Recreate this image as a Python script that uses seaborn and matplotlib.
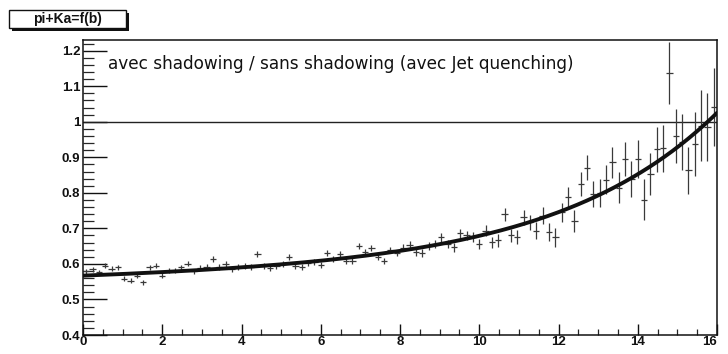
import numpy as np
import pandas as pd
import matplotlib
matplotlib.use("Agg")
import matplotlib.pyplot as plt
from matplotlib.patches import Rectangle
from matplotlib.ticker import MultipleLocator
import seaborn as sns

# Ratio pi+Ka with / without shadowing, binned in b (bin width 0.16)
b_centers = [0.08 + 0.16 * k for k in range(100)]
ratio = [
    0.580, 0.585, 0.577, 0.595, 0.586, 0.591, 0.558, 0.553, 0.567, 0.549,
    0.591, 0.595, 0.567, 0.581, 0.581, 0.591, 0.600, 0.579, 0.589, 0.592,
    0.614, 0.591, 0.600, 0.586, 0.591, 0.595, 0.591, 0.628, 0.595, 0.589,
    0.595, 0.600, 0.619, 0.595, 0.591, 0.603, 0.605, 0.597, 0.631, 0.614,
    0.628, 0.609, 0.609, 0.651, 0.633, 0.644, 0.619, 0.609, 0.640, 0.630,
    0.645, 0.654, 0.633, 0.630, 0.651, 0.656, 0.675, 0.656, 0.647, 0.686,
    0.680, 0.675, 0.656, 0.694, 0.661, 0.666, 0.740, 0.680, 0.675, 0.731,
    0.717, 0.694, 0.736, 0.689, 0.675, 0.745, 0.787, 0.722, 0.825, 0.871,
    0.796, 0.800, 0.837, 0.886, 0.815, 0.895, 0.839, 0.895, 0.781, 0.853,
    0.923, 0.925, 1.138, 0.960, 0.943, 0.863, 0.938, 0.989, 0.985, 1.041,
]
ratio_err = [
    0.007, 0.007, 0.007, 0.007, 0.007, 0.007, 0.007, 0.007, 0.007, 0.007,
    0.007, 0.007, 0.007, 0.007, 0.007, 0.007, 0.007, 0.007, 0.007, 0.007,
    0.008, 0.008, 0.008, 0.008, 0.008, 0.008, 0.008, 0.008, 0.008, 0.008,
    0.008, 0.008, 0.008, 0.008, 0.008, 0.008, 0.008, 0.008, 0.008, 0.008,
    0.009, 0.009, 0.009, 0.009, 0.009, 0.009, 0.009, 0.009, 0.009, 0.009,
    0.010, 0.010, 0.011, 0.011, 0.011, 0.012, 0.012, 0.012, 0.013, 0.013,
    0.014, 0.014, 0.015, 0.015, 0.016, 0.017, 0.018, 0.019, 0.020, 0.021,
    0.022, 0.023, 0.024, 0.025, 0.026, 0.027, 0.029, 0.031, 0.033, 0.035,
    0.037, 0.039, 0.041, 0.043, 0.045, 0.047, 0.050, 0.053, 0.057, 0.060,
    0.063, 0.067, 0.087, 0.075, 0.080, 0.065, 0.090, 0.100, 0.095, 0.110,
]
bin_half_width = 0.08

# Fit function: p0 + p1*b + p2*exp(p3*b)
fit_params = [0.5592, 0.00247, 0.007807, 0.25]

x_min, x_max = 0.0, 16.0
y_min, y_max = 0.4, 1.23

title_text = "pi+Ka=f(b)"
note_text = "avec shadowing / sans shadowing (avec Jet quenching)"

df = pd.DataFrame({"b": b_centers, "ratio": ratio, "err": ratio_err})
b_fine = np.linspace(x_min, x_max, 400)
p0, p1, p2, p3 = fit_params
fit_df = pd.DataFrame({"b": b_fine, "fit": p0 + p1 * b_fine + p2 * np.exp(p3 * b_fine)})

sns.set_theme(style="white")
plt.rcParams["font.family"] = ["Liberation Sans", "DejaVu Sans"]

fig = plt.figure(figsize=(7.28, 3.54), dpi=100)
ax = fig.add_axes([83 / 728, 1 - 335 / 354, (717 - 83) / 728, (335 - 40) / 354])

ax.errorbar(df["b"], df["ratio"], yerr=df["err"], xerr=bin_half_width,
            fmt="none", ecolor="#3a3a3a", elinewidth=0.9, capsize=0, zorder=2)
sns.lineplot(data=fit_df, x="b", y="fit", ax=ax, color="#111111", linewidth=2.8,
             zorder=3, legend=False)
ax.axhline(1.0, color="#222222", linewidth=1.0, zorder=1)

ax.set_xlim(x_min, x_max)
ax.set_ylim(y_min, y_max)
ax.set_xlabel("")
ax.set_ylabel("")

ax.xaxis.set_major_locator(MultipleLocator(2))
ax.xaxis.set_minor_locator(MultipleLocator(0.5))
ax.yaxis.set_major_locator(MultipleLocator(0.1))
ax.yaxis.set_minor_locator(MultipleLocator(0.02))
ax.yaxis.set_major_formatter(matplotlib.ticker.FuncFormatter(lambda v, p: f"{v:g}"))

ax.tick_params(axis="x", which="major", direction="in", length=8, width=1.0,
               bottom=True, top=False, labelsize=9.5, pad=1, colors="#111111")
ax.tick_params(axis="x", which="minor", direction="in", length=4, width=0.9,
               bottom=True, top=False)
ax.tick_params(axis="y", which="major", direction="in", length=17, width=1.0,
               left=True, right=False, labelsize=9.5, pad=2, colors="#111111")
ax.tick_params(axis="y", which="minor", direction="in", length=8, width=0.9,
               left=True, right=False)
fig.canvas.draw()
xlabels = ax.get_xticklabels()
for lab in xlabels + ax.get_yticklabels():
    lab.set_fontweight("bold")
# keep the last x label inside the canvas
for lab in xlabels:
    if lab.get_text() == "16":
        lab.set_horizontalalignment("right")

for s in ax.spines.values():
    s.set_color("#111111")
    s.set_linewidth(1.1)

ax.text(0.04, 0.92, note_text, transform=ax.transAxes, fontsize=12.2,
        family=["DejaVu Sans"], color="#111111", va="center", ha="left")

# Title box with drop shadow
bx0, by0, bw, bh = 9 / 728, 1 - 28 / 354, 117 / 728, 18 / 354
fig.patches.append(Rectangle((bx0 + 3 / 728, by0 - 3 / 354), bw, bh,
                             transform=fig.transFigure, facecolor="#111111",
                             edgecolor="none", zorder=1))
fig.patches.append(Rectangle((bx0, by0), bw, bh, transform=fig.transFigure,
                             facecolor="white", edgecolor="#111111",
                             linewidth=1.0, zorder=2))
fig.text(bx0 + bw / 2, by0 + bh / 2, title_text, fontsize=10, fontweight="bold",
         ha="center", va="center", color="#111111", zorder=3)

fig.savefig("out.png", dpi=100)
